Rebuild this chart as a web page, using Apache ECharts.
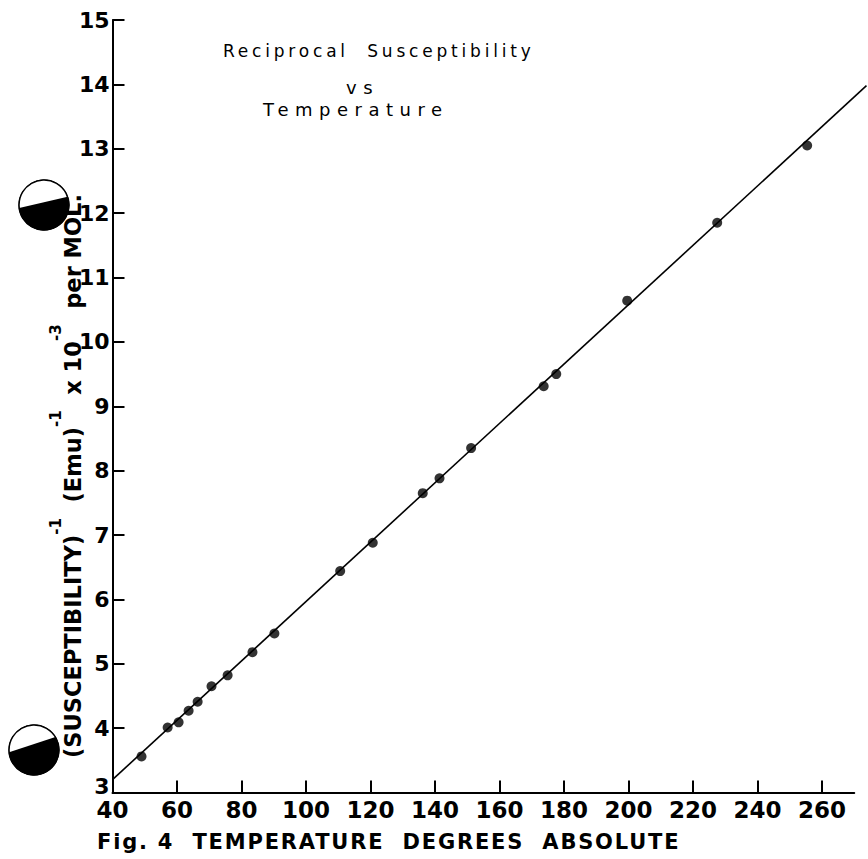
<!DOCTYPE html>
<html>
<head>
<meta charset="utf-8">
<title>Reciprocal Susceptibility vs Temperature</title>
<style>
  html, body { margin: 0; padding: 0; background: #ffffff; }
  #chart { width: 868px; height: 859px; }
  /* hand-lettered look: spaced-out headline and caption */
  #chart text[style*="17px"] { letter-spacing: 3.8px; }
  #chart text[style*="18px"] { letter-spacing: 6.5px; }
  #chart text[style*="21px"] { letter-spacing: 1.8px; }
</style>
<script src="https://cdn.jsdelivr.net/npm/echarts@6/dist/echarts.min.js"></script>
</head>
<body>
<div id="chart"></div>
<script>
// Measured points: absolute temperature (K) and 1/chi (x10^-3, emu per mol)
const temperature = [49.0, 57.1, 60.5, 63.6, 66.4, 70.7, 75.7, 83.4, 90.2, 110.6,
                     120.7, 136.2, 141.4, 151.2, 173.7, 177.6, 199.6, 227.5, 255.4];
const reciprocalChi = [3.56, 4.01, 4.09, 4.27, 4.41, 4.65, 4.82, 5.18, 5.47, 6.44,
                       6.88, 7.65, 7.88, 8.35, 9.31, 9.50, 10.64, 11.85, 13.05];

// Straight line drawn through the points (end values)
const fitTemperature = [40, 273.9];
const fitReciprocal = [3.2, 13.98];

// Axis ticks
const xTickValues = [40, 60, 80, 100, 120, 140, 160, 180, 200, 220, 240, 260];
const yTickValues = [3, 4, 5, 6, 7, 8, 9, 10, 11, 12, 13, 14, 15];

// Texts
const headline = ['Reciprocal  Susceptibility', 'vs', 'Temperature'];
const caption = 'Fig. 4  TEMPERATURE  DEGREES  ABSOLUTE';
const yTitle = '{b|(SUSCEPTIBILITY)}{s|-1}{b|  (Emu)}{s|-1}{b|  x 10}{s|-3}{b|  per MOL.}';

const FONT = '"DejaVu Sans", Verdana, sans-serif';

const points = temperature.map((t, i) => [t, reciprocalChi[i]]);
const fitLine = fitTemperature.map((t, i) => [t, fitReciprocal[i]]);

// Binder-hole marks in the left margin: dark lower part, light upper cap
function holeMark(cx, cy, r, aStart, aEnd) {
  const cap = [];
  const steps = 40;
  for (let k = 0; k <= steps; k++) {
    const a = (aStart + (aEnd - aStart) * k / steps) * Math.PI / 180;
    cap.push([cx + r * Math.cos(a), cy + r * Math.sin(a)]);
  }
  return {
    type: 'group',
    children: [
      { type: 'circle', shape: { cx: cx, cy: cy, r: r }, style: { fill: '#000', stroke: '#000', lineWidth: 1 } },
      { type: 'polygon', shape: { points: cap }, style: { fill: '#fff' } },
      { type: 'circle', shape: { cx: cx, cy: cy, r: r }, style: { fill: 'none', stroke: '#000', lineWidth: 1.5 } }
    ]
  };
}

const chart = echarts.init(document.getElementById('chart'), null, { renderer: 'svg' });

const hiddenAxis = {
  show: false,
  axisLine: { show: false }, axisTick: { show: false },
  axisLabel: { show: false }, splitLine: { show: false }
};

chart.setOption({
  animation: false,
  backgroundColor: '#ffffff',
  grid: [
    // main plotting frame
    { left: 112.5, right: 13.75, top: 20, bottom: 66.5, outerBoundsMode: 'none' },
    // same scale, reaching a little further right for the ruled line
    { left: 112.5, right: 1.2, top: 20, bottom: 66.5, outerBoundsMode: 'none' }
  ],
  xAxis: [
    {
      type: 'value',
      gridIndex: 0,
      min: 40,
      max: 270,
      interval: 20,
      axisLine: { show: true, lineStyle: { color: '#000', width: 2 } },
      axisTick: { show: true, inside: true, length: 12, customValues: xTickValues,
                  lineStyle: { color: '#000', width: 2 } },
      axisLabel: { customValues: xTickValues, color: '#000', fontSize: 23, fontWeight: 'bold',
                   fontFamily: FONT, margin: 8, lineHeight: 18 },
      splitLine: { show: false }
    },
    Object.assign({ type: 'value', gridIndex: 1, min: 40, max: 274 }, hiddenAxis)
  ],
  yAxis: [
    {
      type: 'value',
      gridIndex: 0,
      min: 3,
      max: 15,
      interval: 1,
      axisLine: { show: true, lineStyle: { color: '#000', width: 2 } },
      axisTick: { show: true, inside: true, length: 12, customValues: yTickValues,
                  lineStyle: { color: '#000', width: 2 } },
      axisLabel: {
        customValues: yTickValues, color: '#000', fontSize: 22, fontWeight: 'bold',
        fontFamily: FONT, margin: 3, lineHeight: 14,
        // the bottom figure sits a little above the corner
        formatter: v => (v === yTickValues[0] ? '{low|' + v + '}' : String(v)),
        rich: {
          low: { fontSize: 22, fontWeight: 'bold', fontFamily: FONT, color: '#000',
                 lineHeight: 14, padding: [0, 0, 12, 0] }
        }
      },
      splitLine: { show: false }
    },
    Object.assign({ type: 'value', gridIndex: 1, min: 3, max: 15 }, hiddenAxis)
  ],
  graphic: [
    holeMark(44, 205, 25, 173, 341),
    holeMark(34, 750, 25, 175, 329),
    { type: 'text', x: 223, y: 51,
      style: { text: headline[0], fontSize: 17, fontFamily: FONT, fill: '#000',
               align: 'left', verticalAlign: 'middle' } },
    { type: 'text', x: 346, y: 87,
      style: { text: headline[1], fontSize: 18, fontFamily: FONT, fill: '#000',
               align: 'left', verticalAlign: 'middle' } },
    { type: 'text', x: 263, y: 109,
      style: { text: headline[2], fontSize: 18, fontFamily: FONT, fill: '#000',
               align: 'left', verticalAlign: 'middle' } },
    { type: 'text', x: 97, y: 842,
      style: { text: caption, fontSize: 21, fontWeight: 'bold', fontFamily: FONT, fill: '#000',
               align: 'left', verticalAlign: 'middle' } },
    { type: 'text', x: 73, y: 476, rotation: Math.PI / 2,
      style: {
        text: yTitle, fill: '#000', align: 'center', verticalAlign: 'middle',
        rich: {
          b: { fontSize: 22.5, fontWeight: 'bold', fontFamily: FONT, lineHeight: 50,
               verticalAlign: 'middle', fill: '#000' },
          s: { fontSize: 15, fontWeight: 'bold', fontFamily: FONT, lineHeight: 15,
               verticalAlign: 'top', fill: '#000' }
        }
      } }
  ],
  series: [
    {
      type: 'line',
      xAxisIndex: 1,
      yAxisIndex: 1,
      data: fitLine,
      showSymbol: false,
      silent: true,
      lineStyle: { color: '#000', width: 1.6 },
      z: 2
    },
    {
      type: 'scatter',
      xAxisIndex: 0,
      yAxisIndex: 0,
      data: points,
      symbol: 'circle',
      symbolSize: 10,
      itemStyle: { color: '#000' },
      z: 3
    }
  ]
});
</script>
</body>
</html>
